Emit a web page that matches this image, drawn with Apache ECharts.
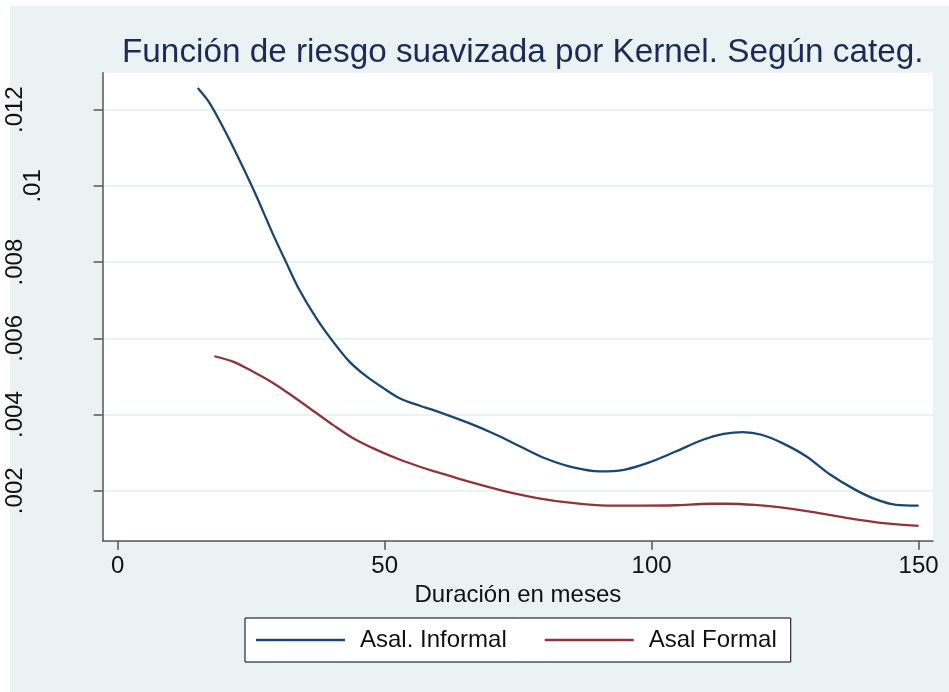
<!DOCTYPE html>
<html>
<head>
<meta charset="utf-8">
<title>Función de riesgo suavizada por Kernel</title>
<script src="https://cdn.jsdelivr.net/npm/echarts@6/dist/echarts.min.js"></script>
<style>
	html, body {
		margin: 0;
		padding: 0;
		background: #fff;
	}
	.graph-region {
		position: absolute;
		left: 10px;
		top: 6px;
		right: 0;
		bottom: 0;
		background: #eaf2f3;
	}
	#chart {
		position: absolute;
		left: 0;
		top: 0;
		width: 949px;
		height: 692px;
	}
</style>
</head>
<body>
<div class="graph-region"></div>
<div id="chart"></div>
<script>
// Valores (meses, tasa de riesgo)
const informalMonths = [15, 17.2, 20.3, 23.4, 26, 29, 31.6, 34, 37.2, 40.3, 43.4, 46.6, 49.7, 52.8, 56.6, 59.3, 65.7, 70.9, 75.4, 79.9, 85.1, 90.3, 94.8, 99.3, 104.5, 109.6, 113.5, 117.1, 120.6, 124.5, 129, 133.5, 138.1, 141.9, 145.8, 150];
const informalHazard = [0.01257, 0.01218, 0.01139, 0.01051, 0.00973, 0.00876, 0.00798, 0.00728, 0.00653, 0.00592, 0.00539, 0.0050, 0.0047, 0.00443, 0.00423, 0.00411, 0.00378, 0.00347, 0.00316, 0.00286, 0.00262, 0.00251, 0.00255, 0.00273, 0.00303, 0.00334, 0.00349, 0.00354, 0.00347, 0.00325, 0.0029, 0.00242, 0.00203, 0.00178, 0.00163, 0.00161];

const formalMonths = [18.1, 21.6, 25.3, 29.1, 32.8, 37.2, 40.3, 44.1, 48.4, 52.8, 56.6, 59.3, 65.8, 72.2, 78.6, 85.1, 91.6, 98, 104.5, 110.9, 114.1, 119.3, 123.8, 130.3, 136.8, 143.3, 150];
const formalHazard = [0.00553, 0.00539, 0.00513, 0.00483, 0.00448, 0.00404, 0.00373, 0.00338, 0.00308, 0.00282, 0.00263, 0.00251, 0.00224, 0.0020, 0.00181, 0.00168, 0.00161, 0.00161, 0.00162, 0.00166, 0.00166, 0.00163, 0.00157, 0.00144, 0.00128, 0.00115, 0.00108];

const xTicks = [0, 50, 100, 150];
const yTicks = [0.002, 0.004, 0.006, 0.008, 0.01, 0.012];
const yTickLabels = ['.002', '.004', '.006', '.008', '.01', '.012'];

const FONT = '"Liberation Sans", Arial, Helvetica, sans-serif';
const AXIS_COLOR = '#555';

const pairs = (xs, ys) => xs.map((x, i) => [x, ys[i]]);
const yLabel = (value) => {
	const idx = yTicks.findIndex((t) => Math.abs(t - value) < 1e-9);
	return idx >= 0 ? yTickLabels[idx] : '';
};

const chart = echarts.init(document.getElementById('chart'), null, { renderer: 'canvas' });

const option = {
	animation: false,
	backgroundColor: 'transparent',
	title: {
		text: 'Función de riesgo suavizada por Kernel. Según categ.',
		left: 117,
		top: 31,
		textStyle: {
			color: '#1c2b55',
			fontFamily: FONT,
			fontSize: 33.3,
			fontWeight: 'normal',
		},
	},
	legend: {
		left: 245,
		top: 618,
		orient: 'horizontal',
		backgroundColor: '#fff',
		borderColor: '#000',
		borderWidth: 1,
		borderRadius: 0,
		padding: [10, 14, 10, 11],
		itemWidth: 89,
		itemHeight: 2.5,
		itemGap: 38,
		icon: 'rect',
		textStyle: {
			color: '#111',
			fontFamily: FONT,
			fontSize: 24,
			padding: [0, 0, 0, 10],
		},
		data: ['Asal. Informal', 'Asal Formal'],
	},
	grid: {
		left: 102.7,
		right: 16,
		top: 72.7,
		bottom: 151.3,
		containLabel: false,
		outerBoundsMode: 'none',
		show: true,
		backgroundColor: '#fff',
		borderWidth: 0,
	},
	xAxis: {
		type: 'value',
		min: -2.8,
		max: 152.7,
		name: 'Duración en meses',
		nameLocation: 'middle',
		nameGap: 38,
		nameTextStyle: {
			color: '#111',
			fontFamily: FONT,
			fontSize: 24,
		},
		axisLine: { show: true, onZero: false, lineStyle: { color: AXIS_COLOR, width: 1.5 } },
		axisTick: {
			show: true,
			length: 9,
			customValues: xTicks,
			lineStyle: { color: AXIS_COLOR, width: 1.5 },
		},
		axisLabel: {
			customValues: xTicks,
			margin: 14,
			color: '#111',
			fontFamily: FONT,
			fontSize: 24,
		},
		splitLine: { show: false },
	},
	yAxis: [
		{
			type: 'value',
			min: 0.00069,
			max: 0.01297,
			axisLine: { show: true, onZero: false, lineStyle: { color: AXIS_COLOR, width: 1.5 } },
			axisTick: {
				show: true,
				length: 9,
				customValues: yTicks,
				lineStyle: { color: AXIS_COLOR, width: 1.5 },
			},
			axisLabel: {
				customValues: yTicks.filter((t) => t !== 0.01),
				rotate: 90,
				margin: 75,
				color: '#111',
				fontFamily: FONT,
				fontSize: 24,
				formatter: yLabel,
			},
			splitLine: {
				show: true,
				lineStyle: { color: '#eaf2f3', width: 2 },
			},
		},
		{
			type: 'value',
			min: 0.00069,
			max: 0.01297,
			position: 'left',
			axisLine: { show: false },
			axisTick: { show: false },
			axisLabel: {
				customValues: [0.01],
				rotate: 90,
				margin: 57,
				color: '#111',
				fontFamily: FONT,
				fontSize: 24,
				formatter: yLabel,
			},
			splitLine: { show: false },
		},
	],
	series: [
		{
			name: 'Asal. Informal',
			type: 'line',
			smooth: 0.3,
			showSymbol: false,
			data: pairs(informalMonths, informalHazard),
			itemStyle: { color: '#1a476f' },
			lineStyle: { color: '#1a476f', width: 2.3 },
			z: 3,
		},
		{
			name: 'Asal Formal',
			type: 'line',
			smooth: 0.3,
			showSymbol: false,
			data: pairs(formalMonths, formalHazard),
			itemStyle: { color: '#90353b' },
			lineStyle: { color: '#90353b', width: 2.3 },
			z: 3,
		},
	],
};

chart.setOption(option);
window.addEventListener('resize', () => chart.resize());
</script>
</body>
</html>
